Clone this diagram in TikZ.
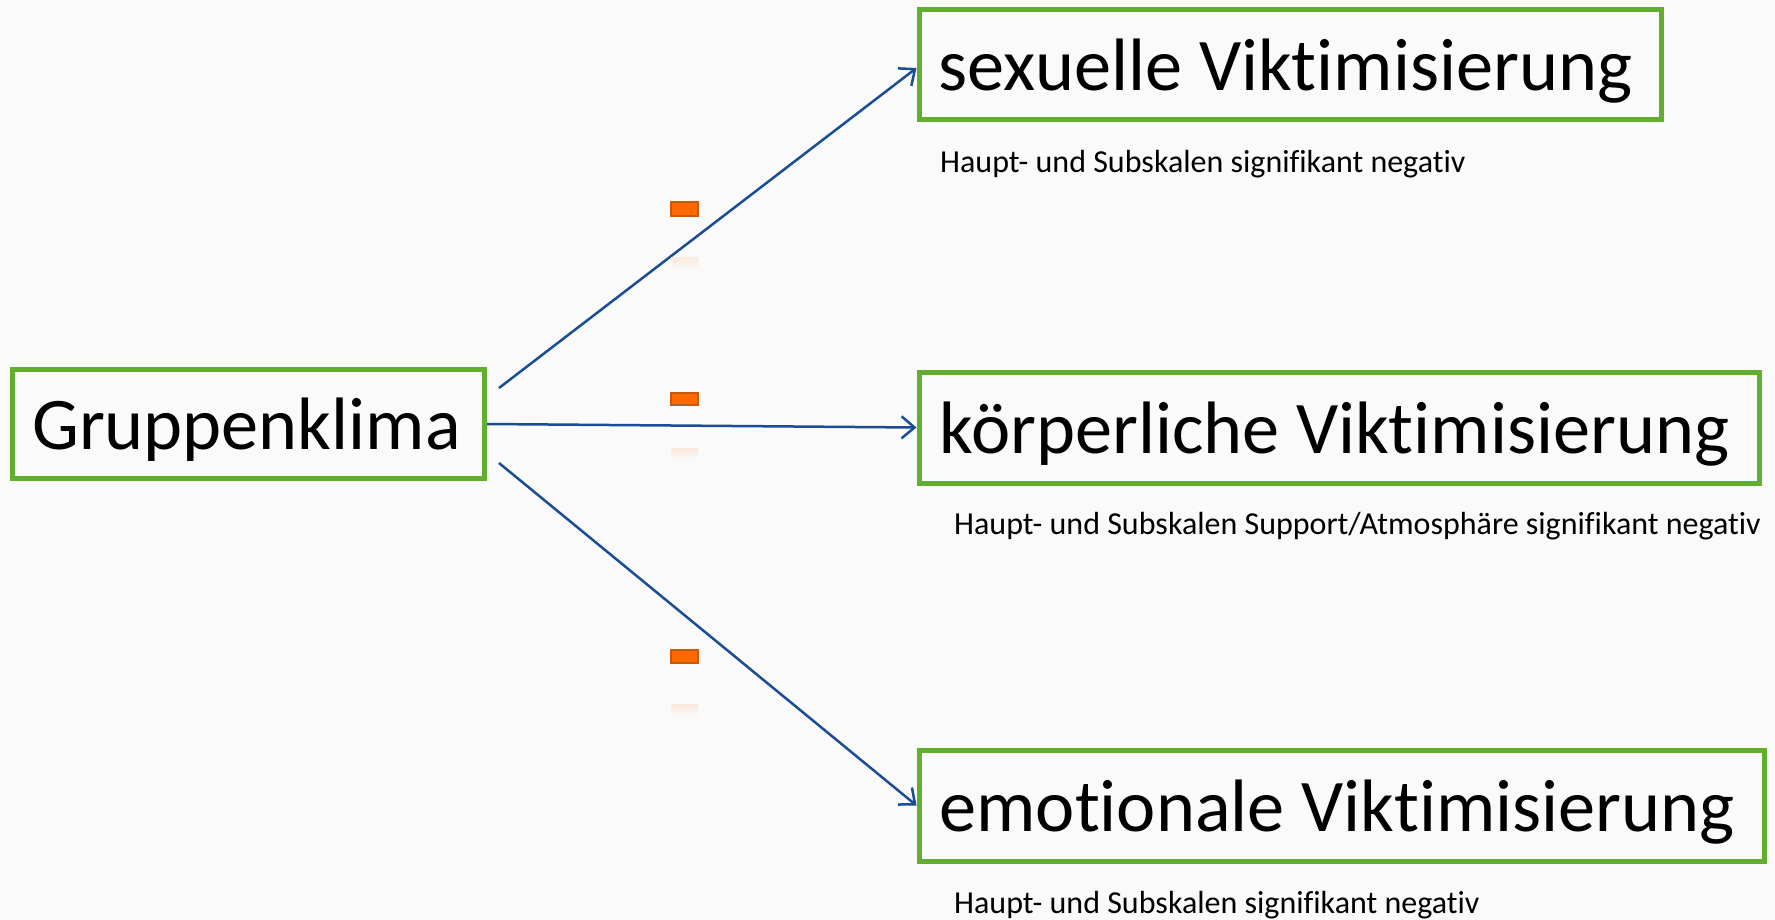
\documentclass[tikz,border=0pt]{standalone}
\usepackage{fontspec}
\setmainfont{Carlito}[Ligatures={NoCommon,NoContextual}]
\usetikzlibrary{arrows.meta,calc}
\definecolor{bg}{HTML}{FAFAFA}
\definecolor{boxgreen}{RGB}{98,174,46}
\definecolor{arrowblue}{RGB}{26,77,150}
\definecolor{mfill}{HTML}{FF6A00}
\definecolor{mdraw}{HTML}{C8590F}
\begin{document}
\begin{tikzpicture}[x=1pt,y=-1pt,
 vbox/.style={draw=boxgreen,line width=5pt,inner sep=0pt,font=\fontsize{74.3}{80}\selectfont,text height=63.2pt,text depth=11.9pt,anchor=center},
 note/.style={font=\fontsize{32.0}{36}\selectfont,anchor=base west,inner sep=0pt},
 link/.style={draw=arrowblue,line width=2.5pt,-{Straight Barb[length=13pt,width=22pt]}},
 minus/.style={fill=mfill,draw=mdraw,line width=1.5pt},
 refl/.style={top color=mfill!12!bg,bottom color=bg,draw=none}]
\fill[bg] (0,0) rectangle (1775,920);
\useasboundingbox (0,0) rectangle (1775,920);
\node[vbox,minimum width=472pt,minimum height=109pt] (g) at (248.5,423.5) {Gruppenklima\kern4pt};
\node[vbox,minimum width=742pt,minimum height=110pt] (s) at (1290,65) {sexuelle Viktimisierung\kern9pt};
\node[vbox,minimum width=840pt,minimum height=111pt] (k) at (1339,427.5) {körperliche Viktimisierung\kern9pt};
\node[vbox,minimum width=845pt,minimum height=111pt] (e) at (1341.5,805.5) {emotionale Viktimisierung\kern9pt};
\node[note] (n1) at (940,173) {Haupt- und Subskalen signifikant negativ};
\node[note] (n2) at (954,534) {Haupt- und Subskalen Support/Atmosphäre signifikant negativ};
\node[note] (n3) at (954,913) {Haupt- und Subskalen signifikant negativ};
\draw[link] ($(g.east)+(12,-35.5)$) -- ($(s.west)+(0,3)$);
\draw[link] ($(g.east)+(0,0.5)$) -- (k.west);
\draw[link] ($(g.east)+(12,39.5)$) -- (e.west);
\draw[minus] (671,202) rectangle (698,216);
\draw[minus] (671,393) rectangle (698,405);
\draw[minus] (671,650) rectangle (698,663);
\shade[refl] (671,257) rectangle (698,270);
\shade[refl] (671,448) rectangle (698,460);
\shade[refl] (671,704) rectangle (698,717);
\end{tikzpicture}
\end{document}
